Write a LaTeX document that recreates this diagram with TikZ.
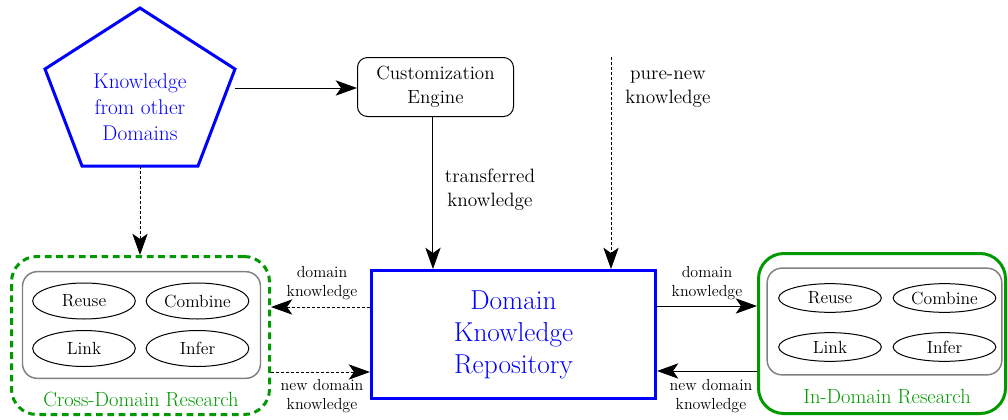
\documentclass[tikz,border=0pt]{standalone}
\usepackage{fontspec}
\usetikzlibrary{arrows.meta,shapes.geometric}
\definecolor{kblue}{RGB}{0,0,255}
\definecolor{kgreen}{RGB}{0,153,0}
\definecolor{kgray}{RGB}{128,128,128}
\tikzset{
  arr/.style={-{Stealth[length=16pt,width=11.5pt,inset=4pt]}, line width=0.75pt},
  darr/.style={arr, dash pattern=on 2.25pt off 1.5pt},
  ell/.style={ellipse, draw, line width=0.75pt, inner sep=0pt, minimum width=77pt, font=\fontsize{13.2}{15}\selectfont},
  lbl/.style={align=center, inner sep=0pt, font=\fontsize{12}{14.25}\selectfont},
  midlbl/.style={align=center, inner sep=0pt, font=\fontsize{14.5}{18}\selectfont},
  graybox/.style={draw=kgray, line width=1.1pt, rounded corners=11pt},
  greenbox/.style={draw=kgreen, line width=2.25pt, rounded corners=19pt},
  restitle/.style={text=kgreen, inner sep=0pt, font=\fontsize{15.4}{19}\selectfont},
}
\begin{document}
\begin{tikzpicture}[x=0.75pt,y=-0.75pt]
\useasboundingbox (0,0) rectangle (1008,419);

% pentagon
\draw[kblue, line width=2.25pt] (140,8) -- (235,69) -- (198,166) -- (82,166) -- (45,69) -- cycle;
\node[text=kblue, align=center, inner sep=0pt, font=\fontsize{16}{19.5}\selectfont] (kod) at (140,107) {Knowledge\\from other\\Domains};
\coordinate (kodE) at (235,88);
\coordinate (kodS) at (140,166);

% customization engine
\node[draw, line width=0.75pt, rounded corners=7.5pt, minimum width=117pt, minimum height=44.25pt, align=center, inner sep=0pt, font=\fontsize{14.3}{18}\selectfont] (ce) at (435.5,87) {Customization\\Engine};

% repository
\node[draw=kblue, line width=2.25pt, minimum width=213pt, minimum height=96pt, align=center, inner sep=0pt, text=kblue, font=\fontsize{20.5}{24}\selectfont] (repo) at (513.5,334.5) {Domain\\Knowledge\\Repository};

% cross-domain research
\node[greenbox, dash pattern=on 5pt off 3.5pt, minimum width=193.5pt, minimum height=118.5pt] (cross) at (140.5,335.5) {};
\node[graybox, minimum width=178.5pt, minimum height=80pt] (cin) at (141.5,325) {};
\node[ell, minimum height=27pt] (c1) at (84,301) {Reuse};
\node[ell, minimum height=27pt] (c2) at (197.5,301) {Combine};
\node[ell, minimum height=27pt] (c3) at (84,348.5) {Link};
\node[ell, minimum height=27pt] (c4) at (197.5,348.5) {Infer};
\node[restitle] (ct) at (141,399) {Cross-Domain Research};

% in-domain research
\node[greenbox, minimum width=185.25pt, minimum height=120pt] (indom) at (882,333.5) {};
\node[graybox, minimum width=176pt, minimum height=80pt] (iin) at (884.5,321.5) {};
\node[ell, minimum height=21.5pt] (i1) at (830,298) {Reuse};
\node[ell, minimum height=21.5pt] (i2) at (944.5,298) {Combine};
\node[ell, minimum height=21.5pt] (i3) at (830,347) {Link};
\node[ell, minimum height=21.5pt] (i4) at (944.5,347) {Infer};
\node[restitle] (it) at (887,397) {In-Domain Research};

% labels
\node[midlbl] (tk) at (490,190) {transferred\\knowledge};
\node[midlbl] (pnk) at (668,89) {pure-new\\knowledge};
\node[lbl] (l1) at (322,283) {domain\\knowledge};
\node[lbl] (l2) at (322,396) {new domain\\knowledge};
\node[lbl] (l3) at (707,283) {domain\\knowledge};
\node[lbl] (l4) at (711,396) {new domain\\knowledge};

% connectors
\coordinate (pn) at (611,57);
\draw[arr] (kodE) -- (kodE -| ce.west);
\draw[darr] (kodS) -- (kodS |- cross.north);
\draw[arr] ([xshift=-1.9pt]ce.south) -- ([xshift=-1.9pt]ce.south |- repo.north);
\draw[darr] (pn) -- (pn |- repo.north);
\draw[darr] (repo.west |- 0,307) -- (cross.east |- 0,307);
\draw[darr] (cross.east |- 0,372) -- (repo.west |- 0,372);
\draw[arr] (repo.east |- 0,306) -- (indom.west |- 0,306);
\draw[arr] (indom.west |- 0,371) -- (repo.east |- 0,371);
\end{tikzpicture}
\end{document}
